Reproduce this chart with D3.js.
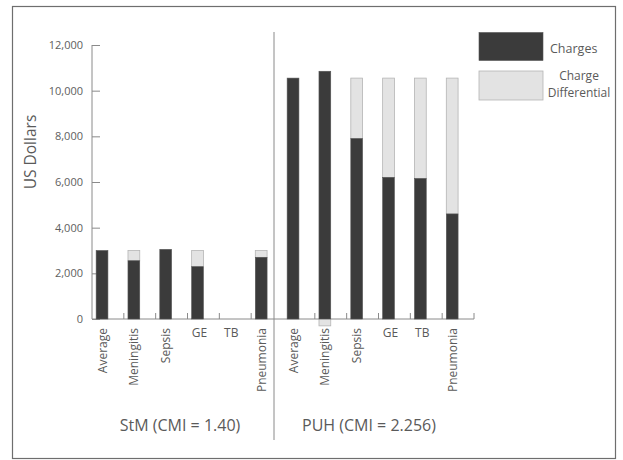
<!DOCTYPE html>
<html><head><meta charset="utf-8">
<script src="https://cdn.jsdelivr.net/npm/d3@7"></script>
<style>
body{margin:0;background:#fff;}
text{font-family:"Open Sans","Noto Sans",sans-serif;fill:#5a5a5a;}
</style></head>
<body><svg id="c" width="623" height="460"></svg>
<script>
// ---- data ----
const groups = ["StM (CMI = 1.40)", "PUH (CMI = 2.256)"];
const categories = ["Average","Meningitis","Sepsis","GE","TB","Pneumonia"];
const stmCharges = [3000, 2550, 3050, 2290, 0, 2700];
const stmDifferential = [0, 450, 0, 710, 0, 300];
const puhCharges = [10550, 10850, 7900, 6200, 6150, 4600];
const puhDifferential = [0, -300, 2650, 4350, 4400, 5950];
const yTicks = [0, 2000, 4000, 6000, 8000, 10000, 12000];
const seriesNames = ["Charges", "Charge Differential"];

const rows = [];
groups.forEach((g, gi) => {
  categories.forEach((c, ci) => {
    rows.push({
      key: gi + "-" + c, group: gi, cat: c,
      charge: gi === 0 ? stmCharges[ci] : puhCharges[ci],
      diff: gi === 0 ? stmDifferential[ci] : puhDifferential[ci]
    });
  });
});

const svg = d3.select("#c");
const darkCol = "#3b3b3b", lightCol = "#e3e3e3", axisCol = "#8a8a8a";

// frame
svg.append("rect").attr("x", 12.5).attr("y", 6.5).attr("width", 603).attr("height", 452)
  .attr("fill", "none").attr("stroke", "#6e6e6e").attr("stroke-width", 1.2);

const x = d3.scaleBand().domain(rows.map(r => r.key)).range([92, 474]).padding(0);
const y = d3.scaleLinear().domain([0, 12000]).range([319, 45]);
const bw = x.bandwidth();
const barOff = bw * 0.13, barW = bw * 0.37;

// y axis
const yAxis = svg.append("g").attr("transform", "translate(92,0)")
  .call(d3.axisRight(y).tickValues(yTicks).tickSize(8).tickFormat(d3.format(",")));
yAxis.select(".domain").attr("stroke", axisCol).attr("d", "M0," + y(0) + "V" + y(12000));
yAxis.selectAll(".tick line").attr("stroke", axisCol);
yAxis.selectAll(".tick text").attr("x", -9).attr("text-anchor", "end")
  .style("font-size", "11px").style("fill", "#5e5e5e");

// x axis line with boundary ticks
const xa = svg.append("g");
xa.append("line").attr("x1", 92).attr("x2", 474).attr("y1", y(0)).attr("y2", y(0))
  .attr("stroke", axisCol);
const bounds = rows.map(r => x(r.key) + bw).filter((v, i) => i !== 5);
xa.selectAll("line.tk").data(bounds).join("line").attr("class", "tk")
  .attr("x1", d => d).attr("x2", d => d).attr("y1", y(0)).attr("y2", y(0) - 6)
  .attr("stroke", axisCol);

// bars
const g = svg.append("g");
g.selectAll("rect.diff").data(rows.filter(r => r.diff !== 0)).join("rect").attr("class", "diff")
  .attr("x", r => x(r.key) + barOff).attr("width", barW)
  .attr("y", r => r.diff > 0 ? y(r.charge + r.diff) : y(0))
  .attr("height", r => r.diff > 0 ? y(r.charge) - y(r.charge + r.diff) : y(r.diff) - y(0))
  .attr("fill", lightCol).attr("stroke", "#b5b5b5").attr("stroke-width", 0.8);
g.selectAll("rect.chg").data(rows.filter(r => r.charge > 0)).join("rect").attr("class", "chg")
  .attr("x", r => x(r.key) + barOff).attr("width", barW)
  .attr("y", r => y(r.charge)).attr("height", r => y(0) - y(r.charge))
  .attr("fill", darkCol).attr("stroke", "#555").attr("stroke-width", 0.6);

// category labels
const lab = svg.append("g");
rows.forEach(r => {
  const cx = x(r.key) + barOff + barW / 2;
  if (r.cat === "GE" || r.cat === "TB") {
    lab.append("text").attr("x", x(r.key) + bw / 2 - 4).attr("y", 337)
      .attr("text-anchor", "middle").style("font-size", "12px").text(r.cat);
  } else {
    lab.append("text").attr("transform", `translate(${cx + 4.5},328) rotate(-90)`)
      .attr("text-anchor", "end").style("font-size", "12px").text(r.cat);
  }
});

// divider
svg.append("line").attr("x1", 274).attr("x2", 274).attr("y1", 32).attr("y2", 440)
  .attr("stroke", "#8a8a8a");

// group labels
const gx = [180, 369];
groups.forEach((t, i) => {
  svg.append("text").attr("x", gx[i]).attr("y", 431).attr("text-anchor", "middle")
    .style("font-size", "16px").text(t);
});

// y title
svg.append("text").attr("transform", "translate(36,152) rotate(-90)")
  .attr("text-anchor", "middle").style("font-size", "15.5px").text("US Dollars");

// legend
svg.append("rect").attr("x", 479).attr("y", 32.5).attr("width", 64).attr("height", 28)
  .attr("fill", darkCol).attr("stroke", "#555").attr("stroke-width", 0.6);
svg.append("rect").attr("x", 479).attr("y", 71).attr("width", 64).attr("height", 29)
  .attr("fill", lightCol).attr("stroke", "#b5b5b5").attr("stroke-width", 0.8);
svg.append("text").attr("x", 550).attr("y", 53).style("font-size", "12.5px").text(seriesNames[0]);
const l2 = svg.append("text").attr("x", 579).attr("y", 80).attr("text-anchor", "middle")
  .style("font-size", "12px");
l2.append("tspan").attr("x", 579).attr("dy", 0).text("Charge");
l2.append("tspan").attr("x", 579).attr("dy", 17).text("Differential");
</script></body></html>
